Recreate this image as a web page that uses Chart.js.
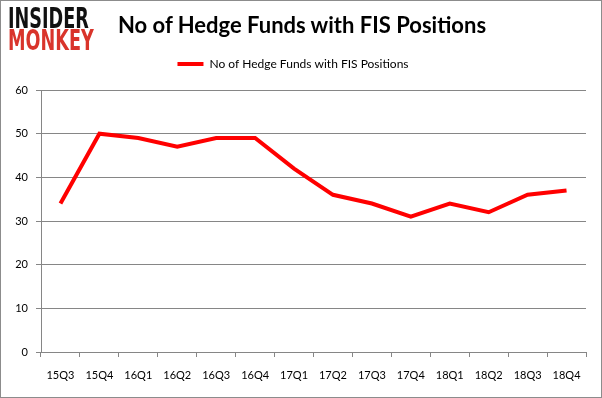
<!DOCTYPE html>
<html>
<head>
<meta charset="utf-8">
<script src="https://cdn.jsdelivr.net/npm/chart.js@4/dist/chart.umd.min.js"></script>
<style>
  body { margin: 0; background: #fff; }
  #wrap { position: relative; width: 602px; height: 398px; box-sizing: border-box; border: 1px solid #8c8c8c; overflow: hidden; }
  #wrap canvas { position: absolute; left: -1px; top: -1px; }
  .logo { position: absolute; left: 7px; font-family: "DejaVu Sans", sans-serif; font-weight: bold; font-size: 28px; line-height: 22px; transform-origin: 0 0; transform: scaleX(0.63); }
  #title { position: absolute; left: 0; width: 602px; top: 10px; text-align: center; font-family: Lato, "Open Sans", sans-serif; font-weight: bold; font-size: 22px; color: #000; }
</style>
</head>
<body>
<div id="wrap">
  <canvas id="fis" width="602" height="398"></canvas>
  <div class="logo" style="top:7px;color:#111;">INSIDER</div>
  <div class="logo" style="top:29px;color:#d9342b;">MONKEY</div>
  <div id="title">No of Hedge Funds with FIS Positions</div>
</div>
<script>
quarters = ['15Q3', '15Q4', '16Q1', '16Q2', '16Q3', '16Q4', '17Q1', '17Q2', '17Q3', '17Q4', '18Q1', '18Q2', '18Q3', '18Q4'];
hedgeFunds = [34, 50, 49, 47, 49, 49, 42, 36, 34, 31, 34, 32, 36, 37];
yTicks = [0, 10, 20, 30, 40, 50, 60];
seriesName = 'No of Hedge Funds with FIS Positions';

gridCol = '#868686';
tickFont = { family: 'Lato, "Open Sans", sans-serif', size: 11 };

// empty box between legend and plot, pushes the plot down a bit
spacer = {
    id: 'spacer',
    beforeInit(chart) {
        Chart.layouts.addBox(chart, {
            position: 'top', weight: 0, fullSize: true, options: {},
            isHorizontal() { return true; },
            update(w) { this.width = w; this.height = 10; },
            draw() {}
        });
    }
};

const fisChart = new Chart(document.getElementById('fis').getContext('2d'), {
    type: 'line',
    data: {
        labels: quarters,
        datasets: [{
            label: seriesName,
            data: hedgeFunds,
            borderColor: '#ff0000',
            backgroundColor: '#ff0000',
            borderWidth: 4,
            pointRadius: 0,
            tension: 0
        }]
    },
    options: {
        responsive: false,
        animation: false,
        layout: { padding: { top: 37, right: 16, left: 0, bottom: 0 } },
        plugins: {
            legend: {
                labels: {
                    usePointStyle: true,
                    pointStyle: 'line',
                    pointStyleWidth: 26,
                    boxHeight: 11,
                    padding: 21,
                    color: '#000',
                    font: { family: 'Lato, "Open Sans", sans-serif', size: 12 }
                }
            },
            tooltip: { enabled: false }
        },
        scales: {
            x: {
                offset: true,
                grid: { drawOnChartArea: false, offset: true, tickLength: 5, color: gridCol },
                border: { color: gridCol },
                ticks: { color: '#000', font: tickFont, padding: 12, maxRotation: 0 },
                afterFit: s => { s.height = 46; }
            },
            y: {
                min: 0,
                max: 60,
                afterBuildTicks: s => { s.ticks = yTicks.map(v => ({ value: v })); },
                grid: { color: gridCol, tickLength: 5 },
                border: { color: gridCol },
                ticks: { color: '#000', font: tickFont, padding: 8 },
                afterFit: s => { s.width = 41; }
            }
        }
    },
    plugins: [spacer]
});
</script>
</body>
</html>
